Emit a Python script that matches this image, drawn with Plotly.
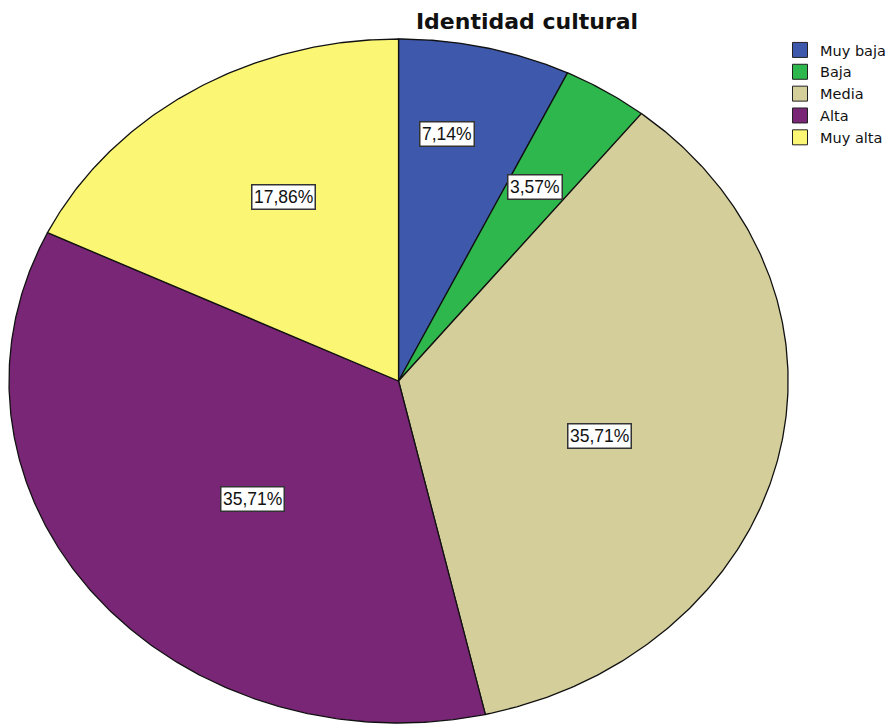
import numpy as np
import plotly.graph_objects as go

categories = ["Muy baja", "Baja", "Media", "Alta", "Muy alta"]
percentages = [7.14, 3.57, 35.71, 35.71, 17.86]
colors = ["#3E58AC", "#2EB74C", "#D4CE9A", "#7A2677", "#FBF774"]

# layout (pixel-based canvas)
W, H = 891, 724
cx, cy, rx, ry = 399, 381, 390, 342
label_xy = [(447, 134), (536, 187), (600, 436), (253, 499), (284, 197)]

fig = go.Figure()
total = sum(percentages)
start = 0.0
for cat, val, col in zip(categories, percentages, colors):
    a0 = start / total * 2 * np.pi
    a1 = (start + val) / total * 2 * np.pi
    t = np.linspace(a0, a1, max(int((a1 - a0) * 120), 8))
    xs = np.concatenate([[cx], cx + rx * np.sin(t), [cx]])
    ys = np.concatenate([[cy], cy - ry * np.cos(t), [cy]])
    fig.add_trace(go.Scatter(x=xs, y=ys, mode="lines", fill="toself", fillcolor=col,
                             line=dict(color="#111111", width=1.3), hoverinfo="skip",
                             showlegend=False))
    start += val

for cat, col in zip(categories, colors):
    fig.add_trace(go.Scatter(x=[None], y=[None], mode="markers", name=cat,
                             marker=dict(symbol="square", size=15, color=col,
                                         line=dict(color="#222222", width=1))))

for val, (lx, ly) in zip(percentages, label_xy):
    fig.add_annotation(x=lx, y=ly, xref="x", yref="y", showarrow=False,
                       text=f"{val:.2f}%".replace(".", ","),
                       font=dict(family="Liberation Sans, Arial", size=17.5, color="#111111"),
                       bgcolor="white", bordercolor="#333333", borderwidth=1.5, borderpad=1.5)

fig.update_layout(
    width=W, height=H, autosize=False,
    margin=dict(l=0, r=0, t=0, b=0),
    paper_bgcolor="white", plot_bgcolor="white",
    xaxis=dict(range=[0, W], visible=False, fixedrange=True),
    yaxis=dict(range=[H, 0], visible=False, fixedrange=True),
    title=dict(text="<b>Identidad cultural</b>", x=527 / W, xanchor="center",
               y=1 - 21 / H, yanchor="middle",
               font=dict(family="DejaVu Sans", size=22, color="#111111")),
    legend=dict(x=781 / W, xanchor="left", y=1 - 34 / H, yanchor="top",
                font=dict(family="DejaVu Sans", size=14.5, color="#111111"),
                itemwidth=30, tracegroupgap=0, bgcolor="rgba(0,0,0,0)",
                borderwidth=0),
    showlegend=True,
)

fig.write_html("out.html", config={"displayModeBar": False},
               post_script="document.body.style.margin='0';document.body.style.overflow='hidden';")
